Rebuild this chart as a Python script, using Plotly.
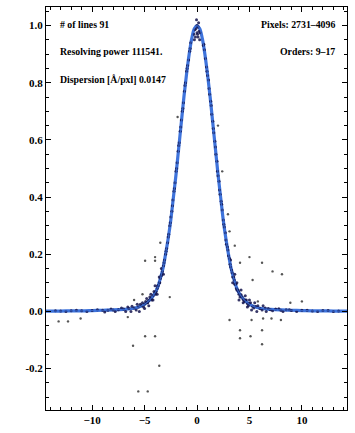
import plotly.graph_objects as go

# Fitted line profile
fit_x = [-14.4, -13, -12, -11, -10, -9, -8, -7, -6, -5.5, -5, -4.5, -4, -3.75, -3.5, -3.25, -3, -2.75,
         -2.5, -2.25, -2, -1.75, -1.5, -1.25, -1, -0.75, -0.5, -0.25, 0, 0.25, 0.5, 0.75, 1, 1.25,
         1.5, 1.75, 2, 2.25, 2.5, 2.75, 3, 3.25, 3.5, 3.75, 4, 4.5, 5, 5.5, 6, 7, 8, 9, 10, 11, 12, 13, 14.4]
fit_y = [0.001, 0.001, 0.002, 0.002, 0.003, 0.004, 0.005, 0.007, 0.011, 0.016, 0.025, 0.04, 0.065, 0.085,
         0.115, 0.15, 0.2, 0.255, 0.32, 0.4, 0.48, 0.57, 0.66, 0.75, 0.83, 0.9, 0.955, 0.99, 1.0, 0.99,
         0.955, 0.9, 0.83, 0.75, 0.66, 0.57, 0.48, 0.4, 0.32, 0.255, 0.2, 0.15, 0.115, 0.085, 0.065,
         0.04, 0.025, 0.016, 0.011, 0.007, 0.005, 0.004, 0.003, 0.002, 0.002, 0.001, 0.001]

# Measured line points
pts_x = [-0.3, -0.2, -0.1, 0, 0.1, 0.2, 0.3, -0.15, 0.05, 0.15, -0.05, 0.25, -0.25, 0.0, 0.1,
         -0.6, -0.7, -0.8, -0.9, -1.0, -1.1, -1.2, -1.3, -1.4, -1.5, -1.6, -1.7, -1.8, -1.9, -2.0,
         -2.1, -2.2, -2.3, -2.4, -2.5, -2.6, -2.7, -2.8, -2.9, -3.0, -3.1, -3.2, -3.3, -3.4, -3.5,
         -3.6, -3.7, -3.8, -3.9, -4.0, -4.2, -4.4, -4.6, -4.8, -5.0, -5.3, -5.6, -6.0, -6.5, -7,
         -7.5, -8, -8.5, -9, -10, -11, -12, -13,
         -0.65, -0.95, -1.15, -1.35, -1.55, -1.75, -1.95, -2.15, -2.35, -2.55, -2.75, -2.95, -3.15,
         -3.35, -3.55, -3.75, -3.95, -4.1, -4.3, -4.5, -4.7, -4.9, -5.1, -5.4, -5.8, -6.2, -6.8,
         -7.2, -7.8, -8.2, -8.8, -9.5, -10.5, -11.5, -12.5, -13.5,
         -3.2, -3.4, -3.6, -3.8, -4.0, -4.2, -4.4, -4.6, -4.8, -5.0, -5.2, -5.5, -5.7, -6.3, -6.6,
         0.6, 0.7, 0.8, 0.9, 1.0, 1.1, 1.2, 1.3, 1.4, 1.5, 1.6, 1.7, 1.8, 1.9, 2.0, 2.1, 2.2, 2.3,
         2.4, 2.5, 2.6, 2.7, 2.8, 2.9, 3.0, 3.1, 3.2, 3.3, 3.4, 3.5, 3.6, 3.7, 3.8, 3.9, 4.0, 4.2,
         4.4, 4.6, 4.8, 5.0, 5.3, 5.6, 6.0, 6.5, 7, 7.5, 8, 8.5, 9, 10, 11, 12, 13,
         0.65, 0.95, 1.15, 1.35, 1.55, 1.75, 1.95, 2.15, 2.35, 2.55, 2.75, 2.95, 3.15, 3.35, 3.55,
         3.75, 3.95, 4.1, 4.3, 4.5, 4.7, 4.9, 5.1, 5.4, 5.8, 6.2, 6.8, 7.2, 7.8, 8.2, 8.8, 9.5,
         10.5, 11.5, 12.5, 13.5,
         3.2, 3.4, 3.6, 3.8, 4.0, 4.2, 4.4, 4.6, 4.8, 5.0, 5.2, 5.5, 5.7, 6.3, 6.6]
pts_y = [0.97, 0.985, 0.99, 1.0, 0.995, 0.98, 0.975, 0.96, 0.97, 1.01, 1.02, 0.95, 0.95, 0.975, 0.96,
         0.94, 0.91, 0.88, 0.86, 0.84, 0.80, 0.77, 0.73, 0.70, 0.67, 0.63, 0.59, 0.56, 0.52, 0.49,
         0.45, 0.42, 0.39, 0.35, 0.33, 0.30, 0.27, 0.24, 0.22, 0.20, 0.18, 0.16, 0.14, 0.125, 0.115,
         0.10, 0.09, 0.08, 0.07, 0.065, 0.055, 0.045, 0.038, 0.03, 0.026, 0.02, 0.015, 0.012, 0.01, 0.008,
         0.006, 0.005, 0.004, 0.004, 0.003, 0.002, 0.002, 0.001,
         0.92, 0.85, 0.79, 0.71, 0.645, 0.58, 0.50, 0.43, 0.37, 0.31, 0.26, 0.21, 0.17,
         0.13, 0.10, 0.09, 0.06, 0.07, 0.04, 0.05, 0.03, 0.035, 0.015, 0.025, 0.005, 0.018, 0.0,
         0.012, 0.0, 0.008, -0.002, 0.006, 0.0, 0.004, 0.0, 0.002,
         0.13, 0.15, 0.12, 0.06, 0.09, 0.04, 0.06, 0.02, 0.045, 0.01, 0.03, 0.0, 0.025, 0.0, 0.015,
         0.93, 0.915, 0.885, 0.855, 0.825, 0.81, 0.76, 0.735, 0.69, 0.665, 0.625, 0.595, 0.55, 0.525,
         0.475, 0.455, 0.41, 0.385, 0.355, 0.32, 0.295, 0.275, 0.235, 0.225, 0.195, 0.185, 0.155,
         0.145, 0.12, 0.12, 0.095, 0.095, 0.075, 0.075, 0.06, 0.058, 0.042, 0.04, 0.028, 0.028, 0.018,
         0.017, 0.01, 0.012, 0.006, 0.008, 0.004, 0.006, 0.003, 0.004, 0.001, 0.003, 0.0,
         0.935, 0.84, 0.78, 0.72, 0.64, 0.575, 0.49, 0.425, 0.375, 0.305, 0.25, 0.215, 0.165, 0.135,
         0.11, 0.08, 0.07, 0.05, 0.05, 0.035, 0.04, 0.02, 0.03, 0.012, 0.02, 0.005, 0.01, 0.002,
         0.009, 0.0, 0.006, 0.0, 0.004, 0.0, 0.003, 0.001,
         0.18, 0.10, 0.13, 0.10, 0.04, 0.075, 0.03, 0.055, 0.015, 0.04, 0.005, 0.03, 0.0, 0.02, 0.0]

# Rejected / outlying points
out_x = [-4.95, -4.0, -13.2, -12.3, -11.1, -6.6, -4.95, -4.0, -6.1, -3.6, -5.6, -4.7, -2.6,
         4.1, 5.0, 6.2, 7.2, 8.1, 5.3, 5.8, 8.9, 10.0, 3.1, 5.2, 6.3, 7.1, 8.0, 4.1, 6.2, 4.1,
         5.1, 6.2, -1.85, 2.0, 2.4, 2.95, 3.1, 3.6, -4.0, -3.5, -5.2, -6.0]
out_y = [0.177, 0.177, -0.035, -0.035, -0.025, -0.02, -0.087, -0.087, -0.12, -0.19, -0.28, -0.28, 0.05,
         0.17, 0.19, 0.17, 0.14, 0.13, 0.11, 0.035, 0.03, 0.035, -0.03, -0.03, -0.025, -0.025, -0.03,
         -0.066, -0.066, -0.094, -0.087, -0.115, 0.68, 0.65, 0.49, 0.34, 0.28, 0.23, 0.19, 0.24,
         0.06, 0.04]

x_ticks = [-10, -5, 0, 5, 10]
y_ticks = [-0.2, 0.0, 0.2, 0.4, 0.6, 0.8, 1.0]
y_ticklabels = ["-0.2", "0.0", "0.2", "0.4", "0.6", "0.8", "1.0"]

info_left = ["# of lines 91", "Resolving power 111541.", "Dispersion [Å/pxl] 0.0147"]
info_right = ["Pixels: 2731–4096", "Orders: 9–17"]

X_RANGE = [-14.4, 14.3]
Y_RANGE = [-0.345, 1.065]

fig = go.Figure()
fig.add_trace(go.Scatter(x=out_x, y=out_y, mode="markers",
                         marker=dict(size=2.4, color="#555555"), showlegend=False))
fig.add_trace(go.Scatter(x=fit_x, y=fit_y, mode="lines", line=dict(color="#3f74dc", width=3.2, shape="spline"),
                         showlegend=False))
fig.add_trace(go.Scatter(x=pts_x, y=pts_y, mode="markers",
                         marker=dict(size=3, color="#14144c", opacity=0.85), showlegend=False))
fig.add_trace(go.Scatter(x=fit_x, y=fit_y, mode="lines", line=dict(color="#3f74dc", width=1.2, shape="spline"),
                         opacity=0.8, showlegend=False))

font_main = dict(family="Liberation Serif", size=9.8, color="black", weight="bold")
ypos = [0.956, 0.889, 0.82]
for t, yy in zip(info_left, ypos):
    fig.add_annotation(text=t, x=0.04, y=yy, xref="paper", yref="paper", xanchor="left",
                       yanchor="middle", showarrow=False, font=font_main)
for t, yy in zip(info_right, ypos):
    fig.add_annotation(text=t, x=0.967, y=yy, xref="paper", yref="paper", xanchor="right",
                       yanchor="middle", showarrow=False, font=font_main)

tickfont = dict(family="Liberation Serif", size=11, color="black", weight="bold")
common = dict(showline=True, linecolor="black", linewidth=1, ticks="inside", ticklen=5,
              tickwidth=1, tickcolor="black", showgrid=False, zeroline=False)
minor_x = dict(ticks="inside", dtick=1, ticklen=3, tickwidth=1, tickcolor="black", showgrid=False)
minor_y = dict(ticks="inside", dtick=0.05, ticklen=3, tickwidth=1, tickcolor="black", showgrid=False)

fig.update_layout(
    width=355, height=433, margin=dict(l=46, r=8, t=7, b=21),
    paper_bgcolor="white", plot_bgcolor="white",
    xaxis=dict(range=X_RANGE, tickvals=x_ticks, tickfont=tickfont, minor=minor_x, **common),
    yaxis=dict(range=Y_RANGE, tickvals=y_ticks, ticktext=y_ticklabels, tickfont=tickfont,
               minor=minor_y, **common),
    xaxis2=dict(range=X_RANGE, overlaying="x", side="top", tickvals=x_ticks, showticklabels=False,
                minor=minor_x, **common),
    yaxis2=dict(range=Y_RANGE, overlaying="y", side="right", tickvals=y_ticks, showticklabels=False,
                minor=minor_y, **common),
)
# invisible trace to activate the mirrored axes
fig.add_trace(go.Scatter(x=[0], y=[0], xaxis="x2", yaxis="y2", mode="markers",
                         marker=dict(opacity=0), hoverinfo="skip", showlegend=False))
fig.write_html("out.html", config={"displayModeBar": False})

# remove the default page margin so the figure sits at the window origin
with open("out.html", encoding="utf-8") as f:
    html = f.read()
html = html.replace("<head>", "<head><style>html,body{margin:0;padding:0;overflow:hidden;}</style>", 1)
with open("out.html", "w", encoding="utf-8") as f:
    f.write(html)
